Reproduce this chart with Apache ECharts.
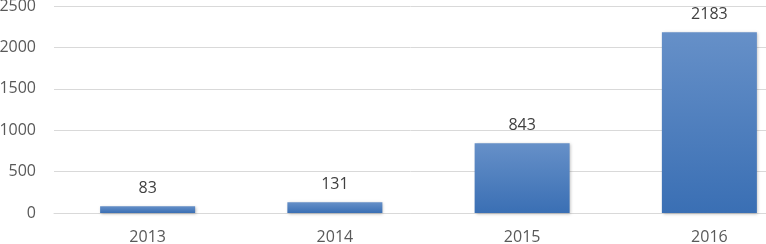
<!DOCTYPE html>
<html><head><meta charset="utf-8">
<script src="https://cdn.jsdelivr.net/npm/echarts@6/dist/echarts.min.js"></script>
<style>html,body{margin:0;padding:0;background:#fff}#c{width:766px;height:244px}</style>
</head><body><div id="c"></div>
<script>
const categories = ['2013', '2014', '2015', '2016'];
const values = [83, 131, 843, 2183];
const yTicks = [0, 500, 1000, 1500, 2000, 2500];

const chart = echarts.init(document.getElementById('c'), null, {renderer: 'canvas'});
const font = 'Open Sans';
chart.setOption({
  animation: false,
  grid: {left: 54, width: 749, top: 6, bottom: 31, containLabel: false, outerBoundsMode: 'none'},
  xAxis: {
    type: 'category', data: categories,
    axisLine: {show: true, lineStyle: {color: '#d9d9d9', width: 1}},
    axisTick: {show: false},
    axisLabel: {color: '#595959', fontSize: 16, fontFamily: font, margin: 16}
  },
  yAxis: {
    type: 'value', min: yTicks[0], max: yTicks[yTicks.length - 1], interval: 500,
    axisLine: {show: false}, axisTick: {show: false},
    splitLine: {lineStyle: {color: '#d9d9d9', width: 1}},
    axisLabel: {color: '#595959', fontSize: 16, fontFamily: font, margin: 18, formatter: v => String(v)}
  },
  series: [{
    type: 'bar', data: values, barWidth: 95,
    itemStyle: {
      color: new echarts.graphic.LinearGradient(0, 0, 0, 1, [
        {offset: 0, color: '#6690c8'},
        {offset: 1, color: '#3a6fb4'}
      ]),
      shadowColor: 'rgba(0,0,0,0.25)', shadowBlur: 3, shadowOffsetX: 1, shadowOffsetY: 1
    },
    label: {show: true, position: 'top', distance: 10, color: '#404040', fontSize: 16, fontFamily: font}
  }]
});
</script></body></html>
